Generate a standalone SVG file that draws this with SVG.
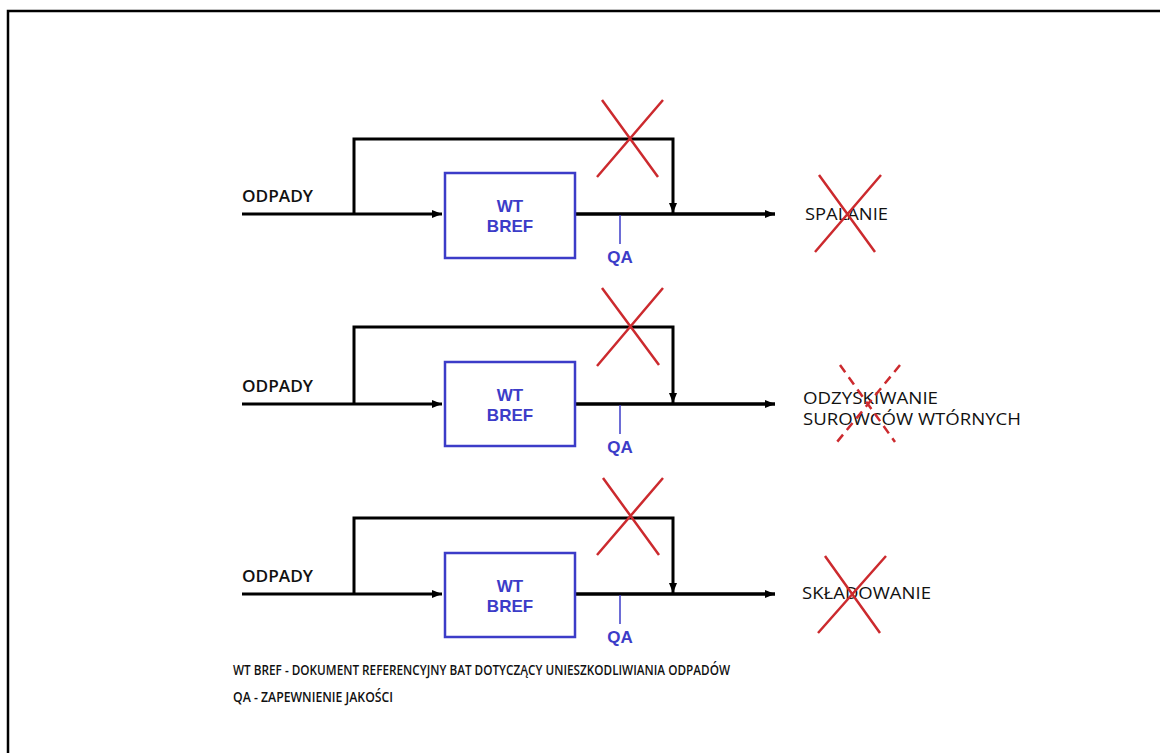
<svg xmlns="http://www.w3.org/2000/svg" width="1160" height="753" viewBox="0 0 1160 753">
<style>
.ln{stroke:#000;stroke-width:3;fill:none}
.out{stroke:#000;stroke-width:3.5;fill:none}
.box{stroke:#3c3cc8;stroke-width:2.5;fill:#fff}
.bt{font-family:"Liberation Sans",Arial,sans-serif;font-weight:bold;font-size:17px;fill:#3c3cc8;text-anchor:middle}
.qa{font-family:"Liberation Sans",Arial,sans-serif;font-weight:bold;font-size:17px;fill:#3c3cc8;text-anchor:middle}
.tick{stroke:#3c3cc8;stroke-width:1.5}
.lbl{font-family:"Open Sans","Liberation Sans",sans-serif;font-size:17px;fill:#111}
.lblb{font-family:"Open Sans","Liberation Sans",sans-serif;font-weight:600;font-size:17px;fill:#111}
.note{font-family:"Open Sans","Liberation Sans",sans-serif;font-weight:600;font-size:14px;fill:#111}
.x{stroke:#cc2a2e;stroke-width:2.5;fill:none}
.xd{stroke:#cc2a2e;stroke-width:2.5;fill:none;stroke-dasharray:9 6}
</style>
<defs>
<marker id="ah" markerWidth="10" markerHeight="8" refX="10" refY="4" orient="auto" markerUnits="userSpaceOnUse">
<path d="M0,0 L10,4 L0,8 Z" fill="#000"/>
</marker>
</defs>
<rect x="8" y="11" width="1160" height="760" fill="none" stroke="#000" stroke-width="2.5"/>

<g id="connectors">
<g id="conn-row1">
<line class="ln" x1="242" y1="214" x2="442" y2="214" marker-end="url(#ah)"/>
<polyline class="ln" points="354,214 354,139 673,139 673,213" marker-end="url(#ah)"/>
<line class="out" x1="575" y1="214" x2="775" y2="214" marker-end="url(#ah)"/>
</g>
<g id="conn-row2">
<line class="ln" x1="242" y1="404" x2="442" y2="404" marker-end="url(#ah)"/>
<polyline class="ln" points="354,404 354,327 673,327 673,403" marker-end="url(#ah)"/>
<line class="out" x1="575" y1="404" x2="775" y2="404" marker-end="url(#ah)"/>
</g>
<g id="conn-row3">
<line class="ln" x1="242" y1="594" x2="442" y2="594" marker-end="url(#ah)"/>
<polyline class="ln" points="354,594 354,518 673,518 673,593" marker-end="url(#ah)"/>
<line class="out" x1="575" y1="594" x2="775" y2="594" marker-end="url(#ah)"/>
</g>
</g>

<g id="row1">
<text class="lblb" x="242" y="202" textLength="71" lengthAdjust="spacingAndGlyphs">ODPADY</text>
<g id="box1"><rect class="box" x="445" y="173" width="130" height="85"/>
<text class="bt" x="510" y="212">WT</text><text class="bt" x="510" y="232">BREF</text></g>
<line class="tick" x1="620" y1="215" x2="620" y2="244"/>
<text class="qa" x="620" y="263">QA</text>
<path class="x" d="M602,100 L658,177 M663,100 L597,177"/>
<text class="lbl" x="805" y="220" textLength="83" lengthAdjust="spacingAndGlyphs">SPALANIE</text>
<path class="x" d="M819,175 L875,252 M881,175 L815,252"/>
</g>

<g id="row2">
<text class="lblb" x="242" y="392" textLength="71" lengthAdjust="spacingAndGlyphs">ODPADY</text>
<g id="box2"><rect class="box" x="445" y="362" width="130" height="84"/>
<text class="bt" x="510" y="401">WT</text><text class="bt" x="510" y="421">BREF</text></g>
<line class="tick" x1="620" y1="405" x2="620" y2="434"/>
<text class="qa" x="620" y="453">QA</text>
<path class="x" d="M602,288 L659,365 M663,288 L597,366"/>
<text class="lbl" x="803" y="404" textLength="135" lengthAdjust="spacingAndGlyphs">ODZYSKIWANIE</text>
<text class="lbl" x="803" y="425" textLength="218" lengthAdjust="spacingAndGlyphs">SUROWCÓW WTÓRNYCH</text>
<path class="xd" d="M840,365 L895,442 M900,365 L837,442"/>
</g>

<g id="row3">
<text class="lblb" x="242" y="582" textLength="71" lengthAdjust="spacingAndGlyphs">ODPADY</text>
<g id="box3"><rect class="box" x="445" y="553" width="130" height="84"/>
<text class="bt" x="510" y="592">WT</text><text class="bt" x="510" y="612">BREF</text></g>
<line class="tick" x1="620" y1="595" x2="620" y2="624"/>
<text class="qa" x="620" y="643">QA</text>
<path class="x" d="M603,478 L659,555 M663,478 L597,555"/>
<text class="lbl" x="802" y="599" textLength="129" lengthAdjust="spacingAndGlyphs">SKŁADOWANIE</text>
<path class="x" d="M825,556 L880,633 M886,556 L818,633"/>
</g>

<g id="legend">
<text class="note" x="233" y="675" textLength="497" lengthAdjust="spacingAndGlyphs">WT BREF - DOKUMENT REFERENCYJNY BAT DOTYCZĄCY UNIESZKODLIWIANIA ODPADÓW</text>
<text class="note" x="233" y="702" textLength="160" lengthAdjust="spacingAndGlyphs">QA - ZAPEWNIENIE JAKOŚCI</text>
</g>
</svg>
